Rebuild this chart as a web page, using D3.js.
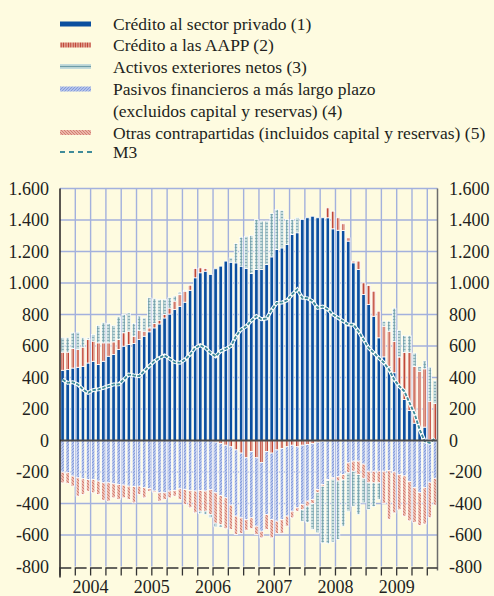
<!DOCTYPE html>
<html>
<head>
<meta charset="utf-8">
<script src="https://cdn.jsdelivr.net/npm/d3@7"></script>
<style>
  body { margin: 0; background: #fefbe0; }
  svg { display: block; }
</style>
</head>
<body>
<svg width="494" height="596" font-family="'Liberation Serif', 'DejaVu Serif', serif"></svg>
<script>
// monthly data, Jan 2004 - Feb 2010 (contributions, bn euro)
const years = ["2004", "2005", "2006", "2007", "2008", "2009"];
const yTicks = [-800, -600, -400, -200, 0, 200, 400, 600, 800, 1000, 1200, 1400, 1600];

const privado = [446, 450, 460, 465, 471, 492, 503, 482, 503, 535, 546, 578, 599, 609, 616, 641, 662, 690, 715, 740,
  778, 803, 831, 852, 878, 954, 1033, 1065, 1075, 1054, 1090, 1107, 1139, 1132, 1128, 1107, 1092, 1060, 1086, 1086,
  1117, 1166, 1213, 1223, 1244, 1308, 1319, 1403, 1414, 1424, 1414, 1414, 1414, 1344, 1335, 1333, 1266, 1128, 1086, 927,
  863, 789, 652, 531, 470, 430, 340, 260, 190, 110, 80, 85, 5, 0];
const aapp = [115, 111, 124, 113, 122, 149, 128, 138, 117, 85, 80, 63, 85, 85, 46, 59, 32, 25, 28, 24,
  22, 38, 54, 74, 70, 32, 59, 31, 17, 0, -10, -20, -30, -40, -60, -80, -110, -70, -110, -140,
  -70, -80, -60, -50, -40, -30, -40, -30, -25, -20, -10, -5, 63, 112, 79, 43, 21, 11, 53, 74,
  121, 159, 169, 195, 224, 200, 190, 300, 370, 360, 360, 370, 245, 235];
const activos = [91, 91, 100, 110, 59, 10, 42, 110, 127, 123, 104, 144, 116, 116, 81, 90, 84, 191, 157, 132,
  96, 65, 32, 16, 6, 0, 0, -16, -21, -20, -23, -15, 0, 28, 123, 184, 205, 242, 317, 307,
  276, 275, 254, 239, 159, 95, 95, -72, -103, -165, -254, -360, -400, -400, -371, -294, -244, -222, -254, -156,
  -169, -151, -106, 32, 64, 210, 170, 107, 105, 85, 30, 50, 215, 145];
const pasivos = [-201, -205, -226, -237, -243, -247, -247, -258, -269, -269, -275, -279, -283, -290, -292, -290, -300, -305, -321, -332,
  -332, -321, -317, -307, -311, -317, -321, -317, -321, -311, -322, -330, -334, -370, -420, -411, -391, -421, -434, -436,
  -400, -421, -452, -451, -440, -419, -387, -376, -360, -354, -301, -274, -248, -237, -230, -216, -142, -131, -131, -150,
  -195, -195, -195, -195, -190, -200, -215, -225, -260, -300, -330, -300, -265, -240];
const otras = [-68, -67, -64, -116, -100, -75, -85, -85, -110, -116, -89, -96, -81, -85, -104, -53, -64, -17, -9, -53,
  -43, -43, -36, -68, -95, -110, -138, -132, -128, -159, -193, -185, -196, -155, -117, -99, -69, -69, -53, -42,
  -95, -117, -78, -89, -64, -42, -22, -34, -32, -26, -21, -11, -7, -8, -28, -34, -63, -64, -85, -90,
  -74, -74, -74, -205, -310, -260, -225, -255, -250, -220, -210, -230, -225, -170];
const m3 = [387, 366, 370, 356, 324, 303, 320, 324, 334, 345, 356, 356, 387, 419, 413, 408, 440, 472, 504, 525,
  540, 519, 497, 493, 514, 546, 588, 605, 588, 557, 535, 567, 582, 599, 662, 705, 725, 760, 790, 770,
  775, 830, 874, 876, 890, 927, 959, 906, 903, 885, 842, 850, 832, 800, 779, 758, 736, 736, 694, 641,
  588, 557, 525, 493, 451, 387, 345, 313, 240, 170, 70, -5, -15, 12];

const legendLabels = [
  "Crédito al sector privado (1)",
  "Crédito a las AAPP (2)",
  "Activos exteriores netos (3)",
  "Pasivos financieros a más largo plazo",
  "(excluidos capital y reservas) (4)",
  "Otras contrapartidas (incluidos capital y reservas) (5)",
  "M3"
];

const months = d3.timeMonth.range(new Date(2004, 0, 1), new Date(2010, 2, 1));

const svg = d3.select("svg");
const plotLeft = 60, plotRight = 437.5, plotTop = 188.5, plotBottom = 566.5;
const textColor = "#231f20";
const fontSize = 18;

svg.append("rect").attr("width", 494).attr("height", 596).attr("fill", "#fefbe0");

// patterns
const defs = svg.append("defs");
function pattern(id, w, h, bg, draw) {
  const p = defs.append("pattern").attr("id", id).attr("patternUnits", "userSpaceOnUse")
    .attr("width", w).attr("height", h);
  p.append("rect").attr("width", w).attr("height", h).attr("fill", bg);
  draw(p);
}
pattern("pAapp", 2.4, 4, "#e6ab9c", p => {
  p.append("line").attr("x1", 1.2).attr("x2", 1.2).attr("y1", 0).attr("y2", 4)
    .attr("stroke", "#bb3c2c").attr("stroke-width", 1);
});
pattern("pActivos", 3, 3, "#c4dbdb", p => {
  p.append("path").attr("d", "M0,1.5H3M1.5,0V3").attr("stroke", "#6e9ca7").attr("stroke-width", 0.7);
});
pattern("pPasivos", 3, 3, "#b3c1ea", p => {
  p.append("path").attr("d", "M-1,1L1,-1M0,3L3,0M2,4L4,2").attr("stroke", "#6584d0").attr("stroke-width", 0.6);
});
pattern("pOtras", 3, 3, "#ebb6a8", p => {
  p.append("path").attr("d", "M-1,2L1,4M0,0L3,3M2,-1L4,1").attr("stroke", "#c9675b").attr("stroke-width", 0.7);
});

// scales
const x = d3.scaleBand().domain(d3.range(months.length)).range([plotLeft, plotRight]);
const y = d3.scaleLinear().domain([-800, 1600]).range([plotBottom, plotTop]);
const bw = x.bandwidth();
const quarterW = bw * 3;

// grid
const grid = svg.append("g").attr("stroke", "#a3b1dd").attr("stroke-width", 1.4);
grid.selectAll("line.h").data(yTicks.filter(t => t > -800 && t !== 0)).join("line")
  .attr("x1", plotLeft).attr("x2", plotRight).attr("y1", d => y(d)).attr("y2", d => y(d));
grid.selectAll("line.v").data(d3.range(1, 25)).join("line")
  .attr("x1", q => plotLeft + q * quarterW).attr("x2", q => plotLeft + q * quarterW)
  .attr("y1", plotTop).attr("y2", plotBottom);

// stacked bars
const keys = ["privado", "aapp", "pasivos", "otras", "activos"];
const fills = {
  privado: "#0b4f9f", aapp: "url(#pAapp)", pasivos: "url(#pPasivos)",
  otras: "url(#pOtras)", activos: "url(#pActivos)"
};
const rows = months.map((m, i) => ({
  privado: privado[i], aapp: aapp[i], pasivos: pasivos[i], otras: otras[i], activos: activos[i]
}));
const series = d3.stack().keys(keys).offset(d3.stackOffsetDiverging)(rows);

svg.append("g").selectAll("g").data(series).join("g")
  .attr("fill", s => fills[s.key])
  .selectAll("rect").data(s => s.map((d, i) => ({ d, i }))).join("rect")
  .attr("x", o => x(o.i) + 0.8)
  .attr("width", bw - 1.6)
  .attr("y", o => y(Math.max(o.d[0], o.d[1])))
  .attr("height", o => Math.abs(y(o.d[0]) - y(o.d[1])))
  .attr("stroke", "#ffffff")
  .attr("stroke-width", 0.8);

// M3 line
const line = d3.line().x((v, i) => x(i) + bw / 2).y(v => y(v));
svg.append("path").datum(m3).attr("d", line).attr("fill", "none")
  .attr("stroke", "#ffffff").attr("stroke-width", 3.8);
svg.append("path").datum(m3).attr("d", line).attr("fill", "none")
  .attr("stroke", "#3f8b99").attr("stroke-width", 1.9).attr("stroke-dasharray", "3.5,1.5");

// zero line and axes
svg.append("line").attr("x1", plotLeft).attr("x2", plotRight).attr("y1", y(0)).attr("y2", y(0))
  .attr("stroke", "#4a4a4a").attr("stroke-width", 2);
svg.append("line").attr("x1", plotLeft).attr("x2", plotLeft).attr("y1", plotTop).attr("y2", plotBottom + 11)
  .attr("stroke", textColor).attr("stroke-width", 1.5);
svg.append("line").attr("x1", plotRight).attr("x2", plotRight).attr("y1", plotTop).attr("y2", plotBottom + 4)
  .attr("stroke", "#6d6d6d").attr("stroke-width", 1.5);

// quarter ticks at the bottom
svg.append("g").selectAll("path").data(d3.range(0, 25)).join("path")
  .attr("d", q => {
    const qx = plotLeft + q * quarterW;
    return `M${qx},${plotBottom + 9}V${plotBottom + 1.5}H${Math.min(qx + quarterW - 4, plotRight)}`;
  })
  .attr("fill", "none").attr("stroke", "#333").attr("stroke-width", 1.3);

// tick labels
const fmt = d3.formatLocale({ decimal: ",", thousands: ".", grouping: [3], currency: ["", ""], minus: "-" }).format(",");
svg.append("g").selectAll("text").data(yTicks).join("text")
  .attr("x", 49).attr("y", d => y(d) + 6).attr("text-anchor", "end")
  .attr("font-size", fontSize).attr("fill", textColor).text(fmt);
svg.append("g").selectAll("text").data(yTicks).join("text")
  .attr("x", 449).attr("y", d => y(d) + 6).attr("text-anchor", "start")
  .attr("font-size", fontSize).attr("fill", textColor).text(fmt);

svg.append("g").selectAll("text").data(years).join("text")
  .attr("x", (d, k) => plotLeft + (k * 4 + 2) * quarterW)
  .attr("y", 593).attr("text-anchor", "middle").attr("font-size", fontSize)
  .attr("fill", textColor).text(d => d);

// legend
const legendY = [24, 45, 66.5, 89, 110.5, 132.5, 152];
const lg = svg.append("g");
lg.selectAll("text").data(legendLabels).join("text")
  .attr("x", 113).attr("y", (d, i) => legendY[i] + 6).attr("font-size", 17.5)
  .attr("fill", textColor).text(d => d);
lg.append("rect").attr("x", 60).attr("y", legendY[0] - 2.5).attr("width", 31).attr("height", 5).attr("fill", "#0b4f9f");
lg.append("rect").attr("x", 60).attr("y", legendY[1] - 2.5).attr("width", 31).attr("height", 5).attr("fill", "url(#pAapp)");
lg.append("rect").attr("x", 60).attr("y", legendY[2] - 2.5).attr("width", 31).attr("height", 5).attr("fill", "#c4dbdb");
lg.append("line").attr("x1", 60).attr("x2", 91).attr("y1", legendY[2]).attr("y2", legendY[2])
  .attr("stroke", "#6e9ca7").attr("stroke-width", 1.2);
lg.append("rect").attr("x", 60).attr("y", legendY[3] - 2.5).attr("width", 31).attr("height", 5).attr("fill", "url(#pPasivos)");
lg.append("rect").attr("x", 60).attr("y", legendY[5] - 2.5).attr("width", 31).attr("height", 5).attr("fill", "url(#pOtras)");
lg.append("line").attr("x1", 60).attr("x2", 93).attr("y1", legendY[6]).attr("y2", legendY[6])
  .attr("stroke", "#3f8b99").attr("stroke-width", 1.8).attr("stroke-dasharray", "5,4");
</script>
</body>
</html>
